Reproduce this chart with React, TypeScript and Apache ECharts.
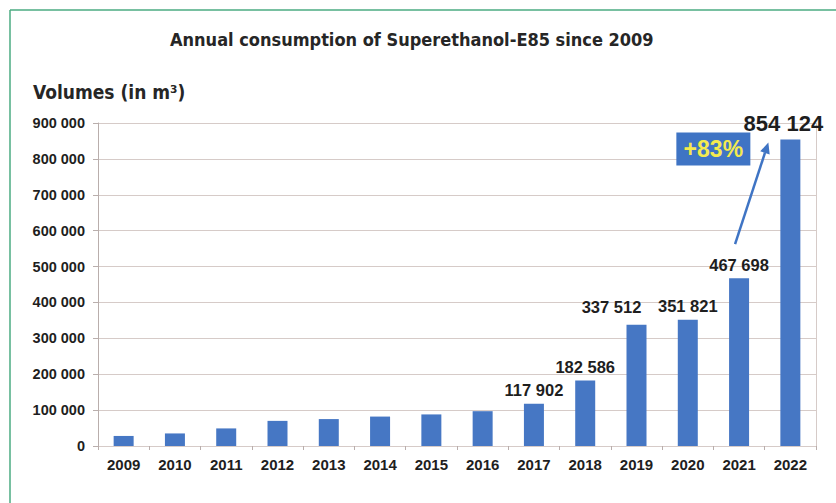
import React, { useEffect, useRef } from "react";
import * as echarts from "echarts";

// Annual consumption of Superethanol-E85, m³
const years = ["2009", "2010", "2011", "2012", "2013", "2014", "2015", "2016", "2017", "2018", "2019", "2020", "2021", "2022"];
const volumes = [28000, 35000, 49000, 70000, 75000, 82000, 88000, 97000, 117902, 182586, 337512, 351821, 467698, 854124];
// years whose bars carry a value label
const labelledYears = ["2017", "2018", "2019", "2020", "2021", "2022"];
const growthText = "+83%";
const yTicks = [0, 100000, 200000, 300000, 400000, 500000, 600000, 700000, 800000, 900000];

const fmt = (v: number) => String(Math.round(v)).replace(/\B(?=(\d{3})+(?!\d))/g, " ");

const BAR = "#4677c4";
const GRID = "#d6cbc8";
const AXIS = "#b9aeac";
const TEXT = "#1e1e1e";
const CONDENSED = "'DejaVu Sans Condensed', 'Liberation Sans Narrow', 'Roboto', sans-serif";

export default function App() {
  const ref = useRef<HTMLDivElement>(null);

  useEffect(() => {
    if (!ref.current) return;
    const chart = echarts.init(ref.current, undefined, { renderer: "svg" });

    const data = volumes.map((v, i) => {
      const y = years[i];
      const item: any = { value: v };
      if (labelledYears.includes(y)) {
        const label: any = {
          show: true,
          position: "top",
          distance: 5,
          formatter: (p: any) => fmt(p.value),
          color: TEXT,
          fontFamily: "'Liberation Sans', Arial, sans-serif",
          fontWeight: "bold",
          fontSize: 16.5,
        };
        if (y === "2019") label.offset = [-25, -4];
        if (y === "2022") {
          label.fontSize = 22;
          label.offset = [-7, 0];
        }
        item.label = label;
      }
      return item;
    });

    chart.setOption({
      animation: false,
      backgroundColor: "#ffffff",
      grid: { left: 98, right: 20, top: 123, bottom: 57, containLabel: false },
      xAxis: {
        type: "category",
        data: years,
        boundaryGap: true,
        axisLine: { show: true, lineStyle: { color: GRID, width: 1 } },
        axisTick: { show: true, alignWithLabel: false, length: 4, lineStyle: { color: AXIS } },
        axisLabel: {
          color: TEXT,
          fontFamily: "'Liberation Sans', Arial, sans-serif",
          fontWeight: "bold",
          fontSize: 15,
          margin: 11,
        },
        splitLine: { show: false },
      },
      yAxis: {
        type: "value",
        min: 0,
        max: yTicks[yTicks.length - 1],
        interval: yTicks[1] - yTicks[0],
        axisLine: { show: true, lineStyle: { color: AXIS, width: 1 } },
        axisTick: { show: true, length: 5, lineStyle: { color: AXIS } },
        axisLabel: {
          color: TEXT,
          fontFamily: "'Liberation Sans', Arial, sans-serif",
          fontWeight: "bold",
          fontSize: 14.5,
          margin: 13,
          formatter: (v: number) => fmt(v),
        },
        splitLine: { show: true, lineStyle: { color: GRID, width: 1 } },
      },
      series: [
        {
          type: "bar",
          data,
          barWidth: 20,
          itemStyle: { color: BAR },
        },
      ],
    });

    // Annotation: growth box and arrow from the 2021 label to the 2022 label
    const p21 = chart.convertToPixel({ xAxisIndex: 0, yAxisIndex: 0 }, ["2021", volumes[12]]) as number[];
    const p22 = chart.convertToPixel({ xAxisIndex: 0, yAxisIndex: 0 }, ["2022", volumes[13]]) as number[];
    const start = [p21[0] - 4, p21[1] - 34];
    const end = [p22[0] - 22, p22[1] + 3];
    const dx = end[0] - start[0];
    const dy = end[1] - start[1];
    const len = Math.hypot(dx, dy);
    const ux = dx / len;
    const uy = dy / len;
    const headL = 11;
    const headW = 5;
    const base = [end[0] - ux * headL, end[1] - uy * headL];
    const head = [
      end,
      [base[0] - uy * headW, base[1] + ux * headW],
      [base[0] + uy * headW, base[1] - ux * headW],
    ];
    const boxX = p22[0] - 114;
    const boxY = p22[1] - 7;

    chart.setOption({
      graphic: [
        // frame
        { type: "line", shape: { x1: 10, y1: 10, x2: 836, y2: 10 }, style: { stroke: "#4bab82", lineWidth: 1.5 }, silent: true },
        { type: "line", shape: { x1: 10, y1: 10, x2: 10, y2: 503 }, style: { stroke: "#4bab82", lineWidth: 1.5 }, silent: true },
        // right border of plot area
        { type: "line", shape: { x1: 816.5, y1: 123, x2: 816.5, y2: 446 }, style: { stroke: GRID, lineWidth: 1 }, silent: true },
        {
          type: "text",
          left: 170,
          top: 30,
          style: {
            text: "Annual consumption of Superethanol-E85 since 2009",
            fill: "#262626",
            font: `bold 18px ${CONDENSED}`,
          },
        },
        {
          type: "text",
          left: 33,
          top: 82,
          style: {
            text: "Volumes (in m³)",
            fill: "#262626",
            font: `bold 19px ${CONDENSED}`,
          },
        },
        {
          type: "line",
          shape: { x1: start[0], y1: start[1], x2: base[0], y2: base[1] },
          style: { stroke: "#3f74c4", lineWidth: 2.5 },
          silent: true,
        },
        { type: "polygon", shape: { points: head }, style: { fill: "#3f74c4" }, silent: true },
        {
          type: "rect",
          shape: { x: boxX, y: boxY, width: 74, height: 33 },
          style: { fill: "#3f74c4" },
          silent: true,
        },
        {
          type: "text",
          x: boxX + 37,
          y: boxY + 17,
          style: {
            text: growthText,
            fill: "#f4ea4e",
            font: "bold 23px 'Liberation Sans', Arial, sans-serif",
            textAlign: "center",
            textVerticalAlign: "middle",
          },
        },
      ],
    });

    return () => chart.dispose();
  }, []);

  return (
    <div style={{ position: "fixed", left: 0, top: 0, width: 836, height: 503, background: "#fff" }}>
      <div ref={ref} style={{ width: 836, height: 503 }} />
    </div>
  );
}
